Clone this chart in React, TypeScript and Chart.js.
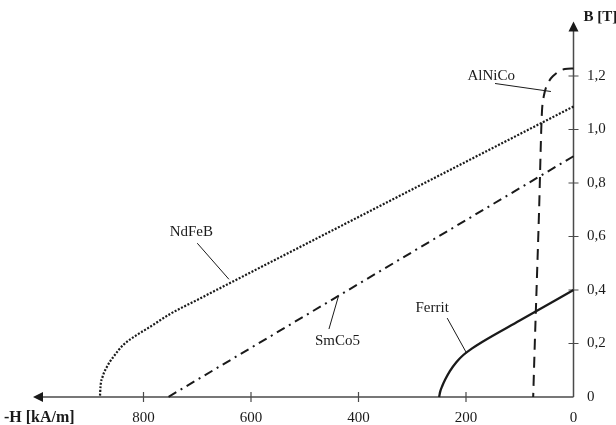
import React, { useEffect, useRef } from "react";
import { Chart, registerables } from "chart.js";

Chart.register(...registerables);

// Demagnetisation curves: field strength -H in kA/m, flux density B in T
const hTicks = [0, 200, 400, 600, 800];
const bTicks = [0, 0.2, 0.4, 0.6, 0.8, 1.0, 1.2];

const ndfebH = [0, 400, 700, 750, 788, 813, 838, 856, 868, 876, 880, 881];
const ndfebB = [1.086, 0.673, 0.363, 0.311, 0.262, 0.231, 0.194, 0.15, 0.113, 0.076, 0.038, 0];

const smco5H = [0, 754];
const smco5B = [0.9, 0];

const ferritH = [0, 100, 170, 190, 205, 218, 230, 238, 244, 248, 250];
const ferritB = [0.4, 0.286, 0.206, 0.18, 0.157, 0.13, 0.097, 0.068, 0.042, 0.02, 0];

const alnicoH = [0, 16, 38, 47, 55, 58.6, 60, 64, 68, 72, 75];
const alnicoB = [1.228, 1.226, 1.2, 1.175, 1.127, 1.07, 1.0, 0.7, 0.448, 0.2, 0];

// Curve name, label centre and leader line (all in H/B units)
const curveNames = ["NdFeB", "SmCo5", "Ferrit", "AlNiCo"];
const labelAt = [
  [711, 0.616],
  [439, 0.209],
  [263, 0.332],
  [153, 1.198],
];
const leaderFrom = [
  [700, 0.575],
  [455, 0.254],
  [235, 0.295],
  [146, 1.172],
];
const leaderTo = [
  [641, 0.44],
  [437, 0.379],
  [200, 0.168],
  [42, 1.142],
];

const SERIF = "'Liberation Serif', 'Times New Roman', serif";
const INK = "#1a1a1a";
const AXIS = "#4a4a4a";

const pts = (hs: number[], bs: number[]) => hs.map((h, i) => ({ x: h, y: bs[i] }));

const fmtB = (v: number) => (v === 0 ? "0" : v.toFixed(1).replace(".", ","));

const axesPlugin = {
  id: "magnetAxes",
  beforeDatasetsDraw(chart: any) {
    const { ctx, chartArea, scales } = chart;
    const xs = scales.x;
    const ys = scales.y;
    const ox = xs.getPixelForValue(0);
    const oy = ys.getPixelForValue(0);
    ctx.save();
    ctx.strokeStyle = AXIS;
    ctx.fillStyle = INK;
    ctx.lineWidth = 1.5;

    // horizontal axis with arrow pointing left
    const xTip = chartArea.left - 3;
    ctx.beginPath();
    ctx.moveTo(ox, oy);
    ctx.lineTo(xTip + 6, oy);
    ctx.stroke();
    ctx.beginPath();
    ctx.moveTo(xTip, oy);
    ctx.lineTo(xTip + 10, oy - 5);
    ctx.lineTo(xTip + 10, oy + 5);
    ctx.closePath();
    ctx.fill();

    // vertical axis with arrow pointing up
    const yTip = chartArea.top - 1;
    ctx.beginPath();
    ctx.moveTo(ox, oy);
    ctx.lineTo(ox, yTip + 6);
    ctx.stroke();
    ctx.beginPath();
    ctx.moveTo(ox, yTip);
    ctx.lineTo(ox - 5, yTip + 10);
    ctx.lineTo(ox + 5, yTip + 10);
    ctx.closePath();
    ctx.fill();

    // tick marks crossing the axes
    ctx.lineWidth = 1.2;
    ctx.beginPath();
    for (const h of hTicks) {
      if (h === 0) continue;
      const px = xs.getPixelForValue(h);
      ctx.moveTo(px, oy - 5);
      ctx.lineTo(px, oy + 5);
    }
    for (const b of bTicks) {
      if (b === 0) continue;
      const py = ys.getPixelForValue(b);
      ctx.moveTo(ox - 5, py);
      ctx.lineTo(ox + 5, py);
    }
    ctx.stroke();
    ctx.restore();
  },
  afterDatasetsDraw(chart: any) {
    const { ctx, scales } = chart;
    const xs = scales.x;
    const ys = scales.y;
    const oy = ys.getPixelForValue(0);
    const ox = xs.getPixelForValue(0);
    ctx.save();
    ctx.fillStyle = INK;
    ctx.strokeStyle = INK;
    ctx.lineWidth = 1;
    ctx.font = `15px ${SERIF}`;
    ctx.textAlign = "center";
    ctx.textBaseline = "middle";
    curveNames.forEach((name, i) => {
      ctx.fillText(name, xs.getPixelForValue(labelAt[i][0]), ys.getPixelForValue(labelAt[i][1]));
      ctx.beginPath();
      ctx.moveTo(xs.getPixelForValue(leaderFrom[i][0]), ys.getPixelForValue(leaderFrom[i][1]));
      ctx.lineTo(xs.getPixelForValue(leaderTo[i][0]), ys.getPixelForValue(leaderTo[i][1]));
      ctx.stroke();
    });

    // axis titles
    ctx.font = `bold 16px ${SERIF}`;
    ctx.textAlign = "left";
    ctx.fillText("-H [kA/m]", 4, oy + 21);
    ctx.font = `bold 15px ${SERIF}`;
    ctx.fillText("B [T]", ox + 10, chart.chartArea.top - 5);
    ctx.restore();
  },
};

export default function App() {
  const canvasRef = useRef<HTMLCanvasElement | null>(null);

  useEffect(() => {
    const canvas = canvasRef.current;
    if (!canvas) return;
    const line = { showLine: true, pointRadius: 0, borderColor: INK, fill: false, clip: false as const };
    const chart = new Chart(canvas, {
      type: "scatter",
      data: {
        datasets: [
          { ...line, label: "NdFeB", data: pts(ndfebH, ndfebB), borderWidth: 2.2, borderDash: [2, 1.6], cubicInterpolationMode: "monotone" },
          { ...line, label: "SmCo5", data: pts(smco5H, smco5B), borderWidth: 2, borderDash: [9, 5, 2, 5] },
          { ...line, label: "Ferrit", data: pts(ferritH, ferritB), borderWidth: 2.3, cubicInterpolationMode: "monotone" },
          { ...line, label: "AlNiCo", data: pts(alnicoH, alnicoB), borderWidth: 2, borderDash: [11, 7], cubicInterpolationMode: "monotone" },
        ],
      },
      options: {
        responsive: false,
        animation: false,
        events: [],
        layout: { padding: { left: 36, top: 21.8, right: 0, bottom: 0 } },
        plugins: { legend: { display: false }, tooltip: { enabled: false }, title: { display: false } },
        scales: {
          x: {
            type: "linear",
            position: "bottom",
            reverse: true,
            min: 0,
            max: 1000,
            grid: { display: false, drawTicks: false },
            border: { display: false },
            afterBuildTicks: (s: any) => {
              s.ticks = hTicks.map((v) => ({ value: v }));
            },
            afterFit: (s: any) => {
              s.height = 28;
            },
            ticks: {
              padding: 12,
              maxRotation: 0,
              autoSkip: false,
              color: INK,
              font: { family: SERIF, size: 15 },
              callback: (v: any) => String(v),
            },
          },
          y: {
            type: "linear",
            position: "right",
            min: 0,
            max: 1.4,
            grid: { display: false, drawTicks: false },
            border: { display: false },
            afterBuildTicks: (s: any) => {
              s.ticks = bTicks.map((v) => ({ value: v }));
            },
            afterFit: (s: any) => {
              s.width = 42.5;
            },
            ticks: {
              padding: 13.5,
              autoSkip: false,
              crossAlign: "near",
              color: INK,
              font: { family: SERIF, size: 15 },
              callback: (v: any) => fmtB(Number(v)),
            },
          },
        },
      },
      plugins: [axesPlugin],
    } as any);
    return () => chart.destroy();
  }, []);

  return (
    <div style={{ position: "fixed", left: 0, top: 0, width: 616, height: 425, background: "#fff" }}>
      <canvas ref={canvasRef} width={616} height={425} style={{ width: 616, height: 425, display: "block" }} />
    </div>
  );
}
